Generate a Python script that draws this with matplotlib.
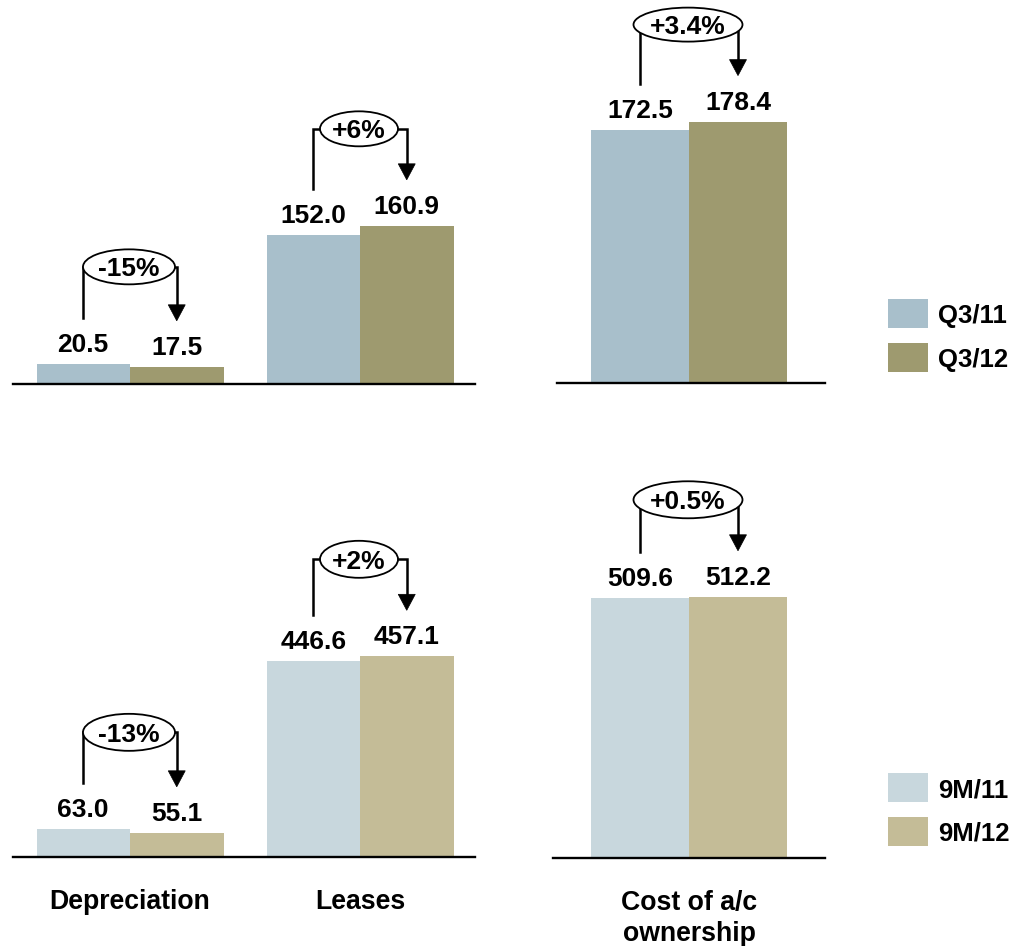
import matplotlib
matplotlib.use("Agg")
import matplotlib.pyplot as plt
from matplotlib import transforms as mtrans
from matplotlib.patches import Ellipse, Polygon, Rectangle
from matplotlib.lines import Line2D

plt.rcParams['font.family'] = ['Liberation Sans', 'DejaVu Sans']
plt.rcParams['font.weight'] = 'bold'

# ---- data -------------------------------------------------------------
categories = ["Depreciation", "Leases"]
total_label = "Cost of a/c\nownership"

quarter_series = ["Q3/11", "Q3/12"]
quarter_prev = [20.5, 152.0]
quarter_curr = [17.5, 160.9]
quarter_total = [172.5, 178.4]
quarter_change = ["-15%", "+6%"]
quarter_total_change = "+3.4%"

ytd_series = ["9M/11", "9M/12"]
ytd_prev = [63.0, 446.6]
ytd_curr = [55.1, 457.1]
ytd_total = [509.6, 512.2]
ytd_change = ["-13%", "+2%"]
ytd_total_change = "+0.5%"

quarter_colors = ["#A8BFCB", "#9E9A6F"]
ytd_colors = ["#C8D7DD", "#C4BC97"]

# ---- figure -----------------------------------------------------------
W, H = 1027, 946
fig = plt.figure(figsize=(W / 100, H / 100), dpi=100)
FS = 18.5
CAT_FS = 19.2

# pixel (at 100 dpi, origin bottom-left) -> display
PX = mtrans.Affine2D().scale(1 / 100) + fig.dpi_scale_trans


def to_px(ax, x, y):
    return ax.transData.transform((x, y)) * 100 / fig.dpi


def panel(left, right, top, bottom, xlim, ylim):
    ax = fig.add_axes([left / W, 1 - bottom / H, (right - left) / W, (bottom - top) / H])
    ax.set_xlim(*xlim)
    ax.set_ylim(*ylim)
    for side in ("left", "right", "top"):
        ax.spines[side].set_visible(False)
    ax.spines["bottom"].set_linewidth(1.7)
    ax.spines["bottom"].set_color("black")
    ax.set_yticks([])
    ax.tick_params(axis="x", length=0, pad=23, labelsize=CAT_FS)
    ax.set_xticks([])
    ax.patch.set_alpha(0)
    return ax


def bars(ax, xs, prev, curr, colors, bw):
    xs = list(xs)
    b1 = ax.bar([x - bw / 2 for x in xs], prev, bw, color=colors[0], zorder=2)
    b2 = ax.bar([x + bw / 2 for x in xs], curr, bw, color=colors[1], zorder=2)
    lab = mtrans.offset_copy(ax.transData, fig=fig, y=12 * 0.72, units="points")
    for x, v in zip(xs, prev):
        ax.text(x - bw / 2, v, f"{v:.1f}", transform=lab, ha="center", va="baseline",
                fontsize=FS + 0.5, fontweight="bold", clip_on=False)
    for x, v in zip(xs, curr):
        ax.text(x + bw / 2, v, f"{v:.1f}", transform=lab, ha="center", va="baseline",
                fontsize=FS + 0.5, fontweight="bold", clip_on=False)
    return b1, b2


def change_bracket(ax, xc, bw, v_prev, v_curr, label, ell_w, ell_h):
    xl, yl = to_px(ax, xc - bw / 2, v_prev)
    xr, yr = to_px(ax, xc + bw / 2, v_curr)
    xm, ytop = to_px(ax, xc, max(v_prev, v_curr))
    yc = ytop + 97
    tip = yr + 46
    head_len, head_half = 16, 8.5
    fig.add_artist(Line2D([xl, xl, xr, xr], [yl + 46, yc, yc, tip + head_len - 1],
                          transform=PX, color="black", lw=1.8, zorder=3,
                          solid_joinstyle="miter"))
    fig.add_artist(Polygon([(xr - head_half, tip + head_len), (xr + head_half, tip + head_len),
                            (xr, tip)], closed=True, transform=PX, fc="black", ec="black",
                           lw=0.5, zorder=3))
    fig.add_artist(Ellipse((xm - 1, yc), ell_w, ell_h, transform=PX, fc="white",
                           ec="black", lw=1.3, zorder=4))
    fig.text(xm - 1, yc, label, transform=PX, ha="center", va="center_baseline",
             fontsize=FS + 0.5, fontweight="bold", zorder=5)


def legend(names, colors, top_y):
    for i, (name, col) in enumerate(zip(names, colors)):
        y0 = top_y + i * 43.5
        fig.add_artist(Rectangle((888, H - (y0 + 29)), 40, 29, transform=PX,
                                 fc=col, ec="none"))
        fig.text(938, H - (y0 + 14.5), name, transform=PX, ha="left",
                 va="center_baseline", fontsize=FS, fontweight="bold")


UNIT = 230.0  # pixels between category centres
bw_parts = 93.5 / UNIT
bw_total = 98.0 / UNIT
xs_parts = range(len(categories))

# ---- quarter row ------------------------------------------------------
ax_q = panel(13, 475, 0, 384, ((13 - 130) / UNIT, 1 + (475 - 360) / UNIT), (0, 390.6))
bars(ax_q, xs_parts, quarter_prev, quarter_curr, quarter_colors, bw_parts)
for x, p, c, lab, w in zip(xs_parts, quarter_prev, quarter_curr, quarter_change, [92, 78]):
    change_bracket(ax_q, x, bw_parts, p, c, lab, w, 35)

ax_qt = panel(557, 825, 0, 383, ((557 - 689) / UNIT, (825 - 689) / UNIT), (0, 261.4))
bars(ax_qt, [0], [quarter_total[0]], [quarter_total[1]], quarter_colors, bw_total)
change_bracket(ax_qt, 0, bw_total, quarter_total[0], quarter_total[1],
               quarter_total_change, 109, 34)
legend(quarter_series, quarter_colors, 299)

# ---- nine-month row ---------------------------------------------------
ax_y = panel(13, 475, 450, 857, ((13 - 130) / UNIT, 1 + (475 - 360) / UNIT), (0, 927))
bars(ax_y, xs_parts, ytd_prev, ytd_curr, ytd_colors, bw_parts)
for x, p, c, lab, w in zip(xs_parts, ytd_prev, ytd_curr, ytd_change, [92, 78]):
    change_bracket(ax_y, x, bw_parts, p, c, lab, w, 37)
ax_y.set_xticks(list(xs_parts), categories, fontsize=CAT_FS, fontweight="bold")

ax_yt = panel(553, 825, 450, 858, ((553 - 689) / UNIT, (825 - 689) / UNIT), (0, 800))
bars(ax_yt, [0], [ytd_total[0]], [ytd_total[1]], ytd_colors, bw_total)
change_bracket(ax_yt, 0, bw_total, ytd_total[0], ytd_total[1], ytd_total_change, 109, 37)
ax_yt.set_xticks([0], [total_label], fontsize=CAT_FS, fontweight="bold", linespacing=1.25)
legend(ytd_series, ytd_colors, 773)

fig.savefig("out.png", dpi=100, facecolor="white")
